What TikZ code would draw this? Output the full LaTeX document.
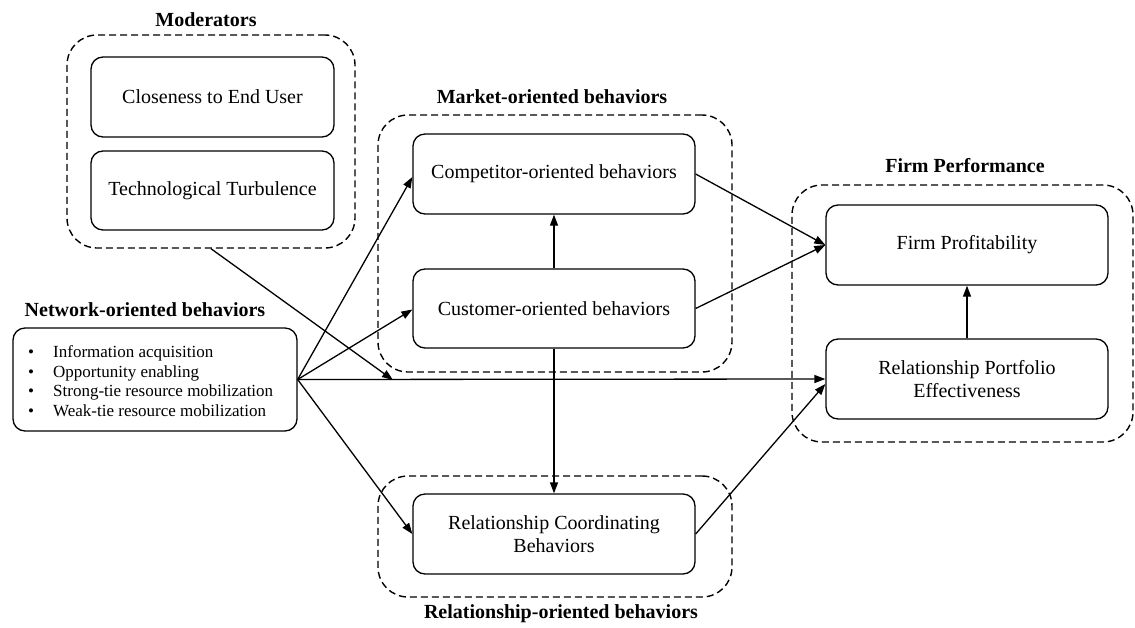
\documentclass[tikz,border=0pt]{standalone}
\usepackage{fontspec}
\setmainfont{Liberation Serif}
\usetikzlibrary{arrows.meta}
\begin{document}
\begin{tikzpicture}[x=1pt,y=-1pt,
  solidbox/.style={draw, rounded corners=12pt, line width=1.3pt, align=center,
    inner sep=0pt, font=\fontsize{20}{23.5}\selectfont},
  dashbox/.style={draw, dash pattern=on 7pt off 4pt, rounded corners=30pt,
    line width=1.4pt, inner sep=0pt},
  lbl/.style={font=\bfseries\fontsize{20}{24}\selectfont, inner sep=0pt},
  arr/.style={-{Triangle[length=11pt,width=8pt]}, line width=1.3pt},
]
\useasboundingbox (0,0) rectangle (1135,627);

% dashed groups
\node[dashbox, minimum width=288pt, minimum height=213pt] (mod) at (211,141.5) {};
\node[dashbox, minimum width=354pt, minimum height=257pt] (mkt) at (555,243.5) {};
\node[dashbox, minimum width=341pt, minimum height=257pt] (firm) at (962.5,313.5) {};
\node[dashbox, minimum width=354pt, minimum height=121pt] (rel) at (555,536.5) {};

% group labels
\node[lbl] (modlbl) at (206,20) {Moderators};
\node[lbl] (mktlbl) at (552,97) {Market-oriented behaviors};
\node[lbl] (firmlbl) at (965,166) {Firm Performance};
\node[lbl] (netlbl) at (145,310) {Network-oriented behaviors};
\node[lbl] (rellbl) at (561,614) {Relationship-oriented behaviors};

% boxes
\node[solidbox, minimum width=243pt, minimum height=80pt] (close) at (212.5,97) {Closeness to End User};
\node[solidbox, minimum width=243pt, minimum height=79pt] (turb) at (212.5,190.5) {Technological Turbulence};
\node[solidbox, minimum width=282pt, minimum height=80pt] (comp) at (554,174) {Competitor-oriented behaviors};
\node[solidbox, minimum width=282pt, minimum height=79pt] (cust) at (554,308.5) {Customer-oriented behaviors};
\node[solidbox, minimum width=282pt, minimum height=80pt] (rcb) at (554,534) {Relationship Coordinating\\Behaviors};
\node[solidbox, minimum width=282pt, minimum height=80pt] (fp) at (967,245) {Firm Profitability};
\node[solidbox, minimum width=282pt, minimum height=80pt] (rpe) at (967,379) {Relationship Portfolio\\Effectiveness};
\node[solidbox, minimum width=284pt, minimum height=103pt] (net) at (155,379.5) {};
\node[anchor=west, align=left, inner sep=0pt, font=\fontsize{17}{19.5}\selectfont] (nettext) at (28,381)
  {\makebox[25pt][l]{\textbullet}Information acquisition\\
   \makebox[25pt][l]{\textbullet}Opportunity enabling\\
   \makebox[25pt][l]{\textbullet}Strong-tie resource mobilization\\
   \makebox[25pt][l]{\textbullet}Weak-tie resource mobilization};

\coordinate (modend) at (393,380);

% connectors
\draw[arr] (net.east) -- ([yshift=-3pt]comp.west);
\draw[arr] (net.east) -- ([yshift=-1pt]cust.west);
\draw[arr] (net.east) -- (rpe.west);
\draw[arr] (net.east) -- (rcb.west);
\draw[arr] (mod.south) -- (modend);
\draw[arr] (comp.east) -- (fp.west);
\draw[arr] (cust.east) -- (fp.west);
\draw[arr] (cust.north) -- (comp.south);
\draw[arr] (cust.south) -- (rcb.north);
\draw[arr] (rcb.east) -- ([yshift=-5pt]rpe.west);
\draw[arr] (rpe.north) -- (fp.south);
\end{tikzpicture}
\end{document}
